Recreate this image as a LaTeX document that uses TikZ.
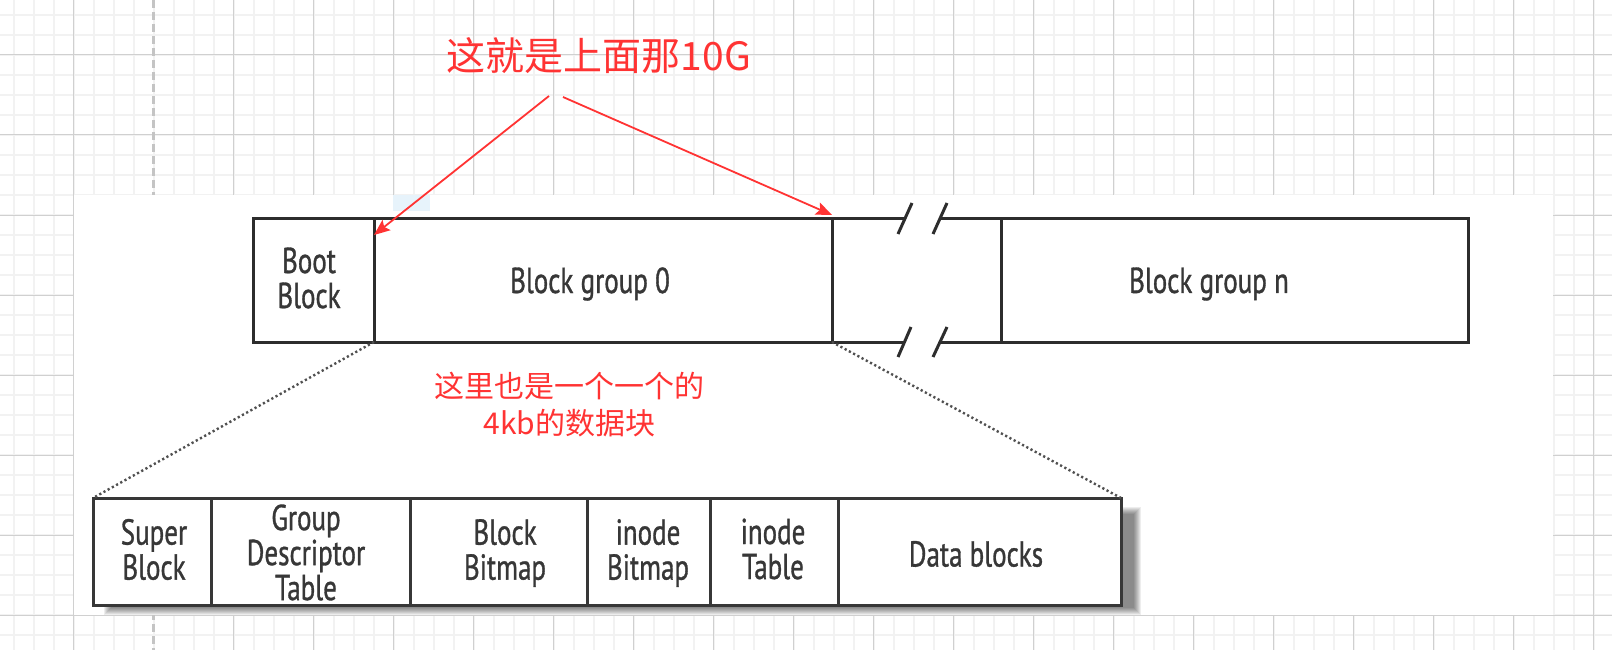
\documentclass[tikz,border=0pt]{standalone}
\usepackage{fontspec}
\usetikzlibrary{arrows.meta,calc}
\newfontfamily\diagfont[FakeStretch=0.75,FakeBold=0.9]{PT Sans}
\newfontfamily\cjkfont{Noto Sans CJK SC}
\definecolor{gridminor}{RGB}{242,242,242}
\definecolor{gridmajor}{RGB}{208,208,208}
\definecolor{griddash}{RGB}{196,196,196}
\definecolor{annot}{RGB}{255,51,51}
\definecolor{boxline}{RGB}{45,45,45}
\definecolor{botline}{RGB}{55,55,55}
\definecolor{boxtext}{RGB}{55,55,55}
\definecolor{dotcol}{RGB}{80,80,80}
\definecolor{blueart}{RGB}{226,241,250}
\begin{document}
\begin{tikzpicture}[x=1pt,y=-1pt,
  topbox/.style={draw=boxline,line width=3pt,fill=white,minimum height=124pt,inner sep=0pt,outer sep=0pt},
  gapbox/.style={minimum height=124pt,inner sep=0pt,outer sep=0pt},
  botbox/.style={draw=botline,line width=3pt,fill=white,minimum height=107pt,inner sep=0pt,outer sep=0pt},
  lbl/.style={text=boxtext,font=\diagfont\fontsize{36}{35}\selectfont,align=center,inner sep=0pt},
  boxedge/.style={draw=boxline,line width=3pt},
  dotline/.style={draw=dotcol,line width=2.4pt,dash pattern=on 2.2pt off 2.6pt},
  annarrow/.style={draw=annot,line width=1.8pt,-{Stealth[length=16pt,width=13pt,inset=3pt]}},
  anntext/.style={text=annot,align=center,inner sep=0pt}
]
\useasboundingbox (0,0) rectangle (1612,650);
% background grid
\fill[white] (0,0) rectangle (1612,650);
\foreach \x in {13.5,33.5,...,1613.5} \draw[gridminor,line width=2pt] (\x,0) -- (\x,650);
\foreach \y in {15,35,...,650} \draw[gridminor,line width=2pt] (0,\y) -- (1612,\y);
\foreach \x in {73.5,233.5,313.5,...,1593.5} \draw[gridmajor,line width=1pt] (\x,0) -- (\x,650);
\foreach \y in {55,135,...,650} \draw[gridmajor,line width=1pt] (0,\y) -- (1612,\y);
\draw[griddash,line width=2.2pt,dash pattern=on 8pt off 4pt] (153.5,0) -- (153.5,650);
% pasted screenshot area
\fill[white] (73.5,195) rectangle (1552.5,615);
\fill[blueart,opacity=0.8] (393,195) rectangle (430,211);

% top row
\node[topbox,minimum width=121pt] (boot) at (313.5,280) {};
\node[topbox,minimum width=458pt] (g0) at (603,280) {};
\node[gapbox,minimum width=169.5pt] (gap) at (916.75,280) {};
\node[topbox,minimum width=466.5pt] (gn) at (1234.75,280) {};
\node[lbl] (boott) at (309,278) {Boot\\Block};
\node[lbl] (g0t) at (590,284) {Block group 0};
\node[lbl] (gnt) at (1209,284) {Block group n};

% broken lines of the gap
\coordinate (tb1) at (905,218);
\coordinate (tb2) at (940,218);
\coordinate (bb1) at (905,342);
\coordinate (bb2) at (940,342);
\draw[boxedge] (g0.north east) -- (tb1);
\draw[boxedge] (tb2) -- (gn.north west);
\draw[boxedge] (g0.south east) -- (bb1);
\draw[boxedge] (bb2) -- (gn.south west);
\draw[boxedge] (898,234) -- (912,203);
\draw[boxedge] (933,234) -- (947,203);
\draw[boxedge] (898,357) -- (911,327);
\draw[boxedge] (933,357) -- (947,327);

% shadow of bottom row
\foreach \i in {0,...,7}
  \fill[black,opacity=0.07] (104+\i,507+\i) rectangle (1141-\i,615-\i);

% bottom row
\node[botbox,minimum width=118pt] (sb) at (152,551.5) {};
\node[botbox,minimum width=199pt] (gdt) at (310.5,551.5) {};
\node[botbox,minimum width=177pt] (bbm) at (498.5,551.5) {};
\node[botbox,minimum width=123pt] (ibm) at (648.5,551.5) {};
\node[botbox,minimum width=128pt] (itb) at (774,551.5) {};
\node[botbox,minimum width=283pt] (db) at (979.5,551.5) {};
\node[lbl] (sbt) at (154,549.5) {Super\\Block};
\node[lbl] (gdtt) at (306,552.5) {Group\\Descriptor\\Table};
\node[lbl] (bbmt) at (505,553) {Block\\Bitmap};
\node[lbl] (ibmt) at (648,553) {inode\\Bitmap};
\node[lbl] (itbt) at (773,549) {inode\\Table};
\node[lbl] (dbt) at (976,554) {Data blocks};

% dotted zoom lines
\draw[dotline] (boot.south east) -- (sb.north west);
\draw[dotline] (g0.south east) -- (db.north east);

% annotations
\node[anntext,font=\cjkfont\fontsize{39}{40}\selectfont] (title) at (599,56) {这就是上面那10G};
\node[anntext,font=\cjkfont\fontsize{30}{37}\selectfont] (note) at (569.5,405) {这里也是一个一个的\\4kb的数据块};
\coordinate (a1) at (549,96);
\coordinate (a2) at (563,97);
\draw[annarrow] (a1) -- ([yshift=-17pt]boot.north east);
\draw[annarrow] (a2) -- ([yshift=3pt]g0.north east);
\end{tikzpicture}
\end{document}
